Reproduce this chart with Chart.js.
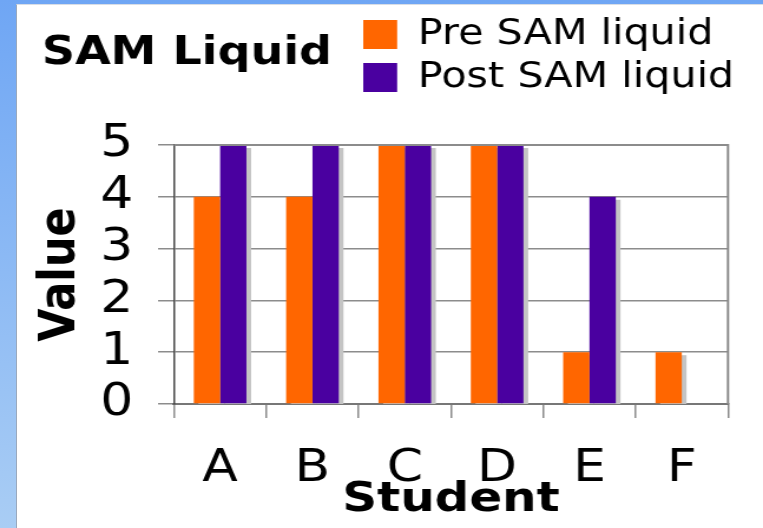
<!DOCTYPE html>
<html>
<head>
<meta charset="utf-8">
<script src="https://cdn.jsdelivr.net/npm/chart.js@4"></script>
<style>
  body { margin: 0; }
  #wrap { position: relative; width: 763px; height: 528px; background: linear-gradient(#6fa6f4, #a9cdf4); overflow: hidden; }
  #panel { position: absolute; left: 16px; top: 4px; right: 0; bottom: 0; background: #fff; border-left: 1px solid #9aa9bd; border-top: 1px solid #d8dde5; }
</style>
</head>
<body>
<div id="wrap">
  <div id="panel"></div>
  <!-- the source slide is stretched sideways, so the canvas is too -->
  <canvas id="mycanvas" width="647" height="528" style="position:absolute;left:0;top:0;width:763px;height:528px"></canvas>
</div>
<script>
var students = ['A', 'B', 'C', 'D', 'E', 'F'];
var preSam = [4, 4, 5, 5, 1, 1];
var postSam = [5, 5, 5, 5, 4, 0];
var valueTicks = [0, 1, 2, 3, 4, 5];

Chart.defaults.font.family = '"DejaVu Sans", Verdana, sans-serif';
Chart.defaults.color = '#000';

// title next to the legend, plot frame and bar shadows
var slideBits = {
    id: 'slideBits',
    afterLayout: function(chart) {
        var lg = chart.legend;
        var h = lg.bottom - lg.top;
        lg.left = 300;
        lg.right = chart.width;
        lg.top = 9;
        lg.bottom = 9 + h;
    },
    beforeDatasetsDraw: function(chart) {
        // grey drop shadow behind every bar, drawn before all bars
        var ctx = chart.ctx;
        var a = chart.chartArea;
        ctx.save();
        ctx.beginPath();
        ctx.rect(a.left, a.top, a.right - a.left, a.bottom - a.top);
        ctx.clip();
        ctx.fillStyle = '#c4c4c4';
        chart.data.datasets.forEach(function(ds, i) {
            chart.getDatasetMeta(i).data.forEach(function(bar) {
                var h = bar.base - bar.y;
                if (h <= 0) return;
                ctx.fillRect(bar.x - bar.width / 2 + 4, bar.y + 3, bar.width, h);
            });
        });
        ctx.restore();
    },
    afterDraw: function(chart) {
        var a = chart.chartArea;
        var ctx = chart.ctx;
        ctx.save();
        ctx.strokeStyle = '#8c8c8c';
        ctx.lineWidth = 2;
        ctx.beginPath();
        ctx.moveTo(a.left, a.top);
        ctx.lineTo(a.right, a.top);
        ctx.lineTo(a.right, a.bottom);
        ctx.stroke();
        ctx.font = 'bold 39px "DejaVu Sans"';
        ctx.fillStyle = '#000';
        ctx.textBaseline = 'alphabetic';
        ctx.fillText('SAM Liquid', 35.6, 64);
        ctx.restore();
    }
};

var chartdata = {
    labels: students,
    datasets: [{
        label: 'Pre SAM liquid',
        backgroundColor: '#ff6600',
        borderWidth: 0,
        data: preSam
    }, {
        label: 'Post SAM liquid',
        backgroundColor: '#4a00a0',
        borderWidth: 0,
        data: postSam
    }]
};

var ctx = document.getElementById('mycanvas');

var barGraph = new Chart(ctx, {
    type: 'bar',
    data: chartdata,
    plugins: [slideBits],
    options: {
        responsive: false,
        animation: false,
        datasets: {
            bar: { barPercentage: 1, categoryPercentage: 0.57 }
        },
        layout: {
            padding: { left: 22.7, right: 29.7, top: 49, bottom: 0 }
        },
        plugins: {
            tooltip: { enabled: false },
            legend: {
                position: 'top',
                align: 'start',
                fullSize: false,
                labels: {
                    font: { size: 35 },
                    boxWidth: 28.8,
                    boxHeight: 29,
                    padding: 8
                }
            }
        },
        scales: {
            x: {
                grid: { drawOnChartArea: false, tickLength: 14, color: '#8c8c8c', lineWidth: 1.5 },
                border: { color: '#777', width: 2 },
                ticks: { font: { size: 44 }, padding: 25.6, maxRotation: 0, autoSkip: false },
                title: {
                    display: true,
                    text: 'Student',
                    font: { size: 41, weight: 'bold', lineHeight: 1 },
                    padding: { top: -42, bottom: 7 }
                }
            },
            y: {
                min: 0,
                max: 5,
                afterBuildTicks: function(axis) {
                    axis.ticks = valueTicks.map(function(v) { return { value: v }; });
                },
                grid: { color: '#8c8c8c', lineWidth: 1.5, tickLength: 13.5 },
                border: { color: '#444', width: 1.5 },
                ticks: { font: { size: 44 }, padding: 21, autoSkip: false },
                title: {
                    display: true,
                    text: 'Value',
                    font: { size: 43, weight: 'bold' },
                    padding: { top: 3.4, bottom: -13.7 }
                }
            }
        }
    }
});
</script>
</body>
</html>
